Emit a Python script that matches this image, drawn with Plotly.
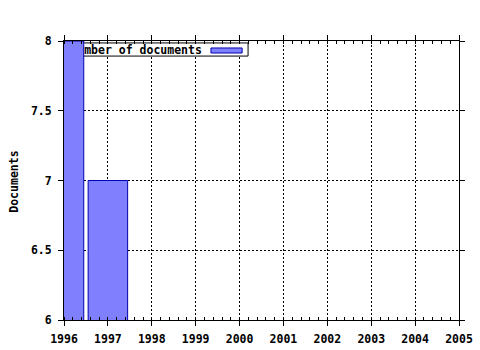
import plotly.graph_objects as go

years = [1996, 1997]
documents = [8, 7]
legend_label = "Number of documents"
y_title = "Documents"
x_ticks = list(range(1996, 2006))
y_ticks = [6, 6.5, 7, 7.5, 8]
y_tick_text = ["6", "6.5", "7", "7.5", "8"]

X_RANGE = [1996, 2005]
Y_RANGE = [6, 8]
FONT = dict(family="DejaVu Sans Mono", size=11.5, color="black", weight="bold")
BAR_FILL = "#8080ff"
BAR_LINE = "#0000b0"


def fx(f):
    return X_RANGE[0] + f * (X_RANGE[1] - X_RANGE[0])


def fy(f):
    return Y_RANGE[0] + f * (Y_RANGE[1] - Y_RANGE[0])


fig = go.Figure()

# legend text on main subplot (drawn beneath the bars subplot)
fig.add_trace(go.Scatter(
    x=[fx(0.016)], y=[fy(0.962)], mode="text", text=[legend_label],
    textposition="middle right", textfont=FONT,
    xaxis="x", yaxis="y", showlegend=False, hoverinfo="skip",
))

fig.add_trace(go.Bar(
    x=years, y=documents, width=0.9,
    marker=dict(color=BAR_FILL, line=dict(color=BAR_LINE, width=1)),
    xaxis="x2", yaxis="y2", showlegend=False,
))

axis_common = dict(
    showline=True, linecolor="black", linewidth=1, mirror="ticks",
    ticks="outside", ticklen=5, tickcolor="black", tickwidth=1,
    showgrid=True, gridcolor="black", gridwidth=1, griddash="2px,2px",
    zeroline=False, tickfont=FONT, automargin=False,
)

fig.update_layout(
    width=480, height=350,
    margin=dict(l=64, r=21, t=41, b=30),
    paper_bgcolor="white", plot_bgcolor="white",
    xaxis=dict(range=X_RANGE, tickmode="linear", tick0=x_ticks[0], dtick=1,
               ticklabelstandoff=3,
               minor=dict(tick0=x_ticks[0], dtick=0.2, ticks="inside", ticklen=3,
                          tickcolor="black", showgrid=False),
               **axis_common),
    yaxis=dict(range=Y_RANGE, tickvals=y_ticks, ticktext=y_tick_text,
               ticklabelstandoff=4,
               **axis_common),
    xaxis2=dict(range=X_RANGE, overlaying="x", visible=False),
    yaxis2=dict(range=Y_RANGE, overlaying="y", visible=False),
    annotations=[
        dict(text=y_title, xref="paper", yref="paper", x=-0.127, y=0.495,
             xanchor="center", yanchor="middle", textangle=-90,
             showarrow=False, font=FONT),
    ],
    shapes=[
        dict(type="rect", xref="x", yref="y",
             x0=fx(0.01), x1=fx(0.466), y0=fy(0.946), y1=fy(0.993), layer="between",
             fillcolor="white", line=dict(color="black", width=1)),
        dict(type="rect", xref="x", yref="y",
             x0=fx(0.372), x1=fx(0.451), y0=fy(0.957), y1=fy(0.975), layer="between",
             fillcolor=BAR_FILL, line=dict(color=BAR_LINE, width=1)),
    ],
)

fig.write_html("out.html")
